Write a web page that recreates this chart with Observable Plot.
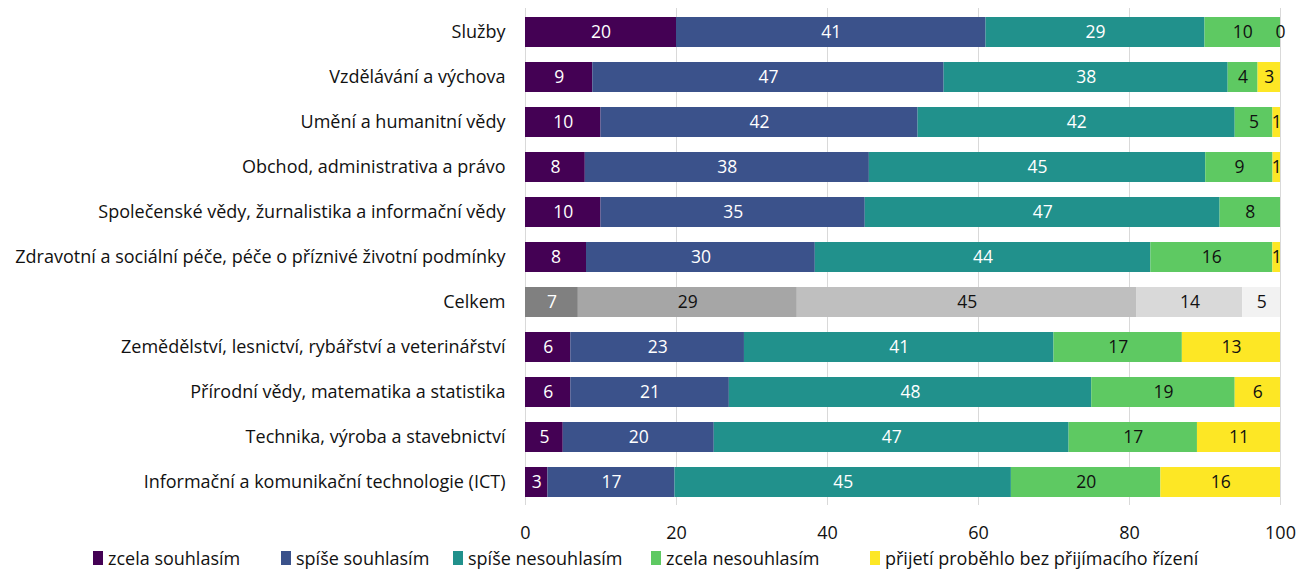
<!DOCTYPE html>
<html>
<head>
<meta charset="utf-8">
<script src="https://cdn.jsdelivr.net/npm/d3@7"></script>
<script src="https://cdn.jsdelivr.net/npm/@observablehq/plot@0.6"></script>
<style>
  html, body { margin: 0; padding: 0; background: #fff; }
  #chart { width: 1298px; }
  .legend { font-family: "Open Sans", sans-serif; font-size: 18px; color: #111; height: 25px; position: relative; }
  .legend .item { display: flex; align-items: center; position: absolute; top: 0; height: 25px; white-space: nowrap; }
  .legend .sw { width: 10px; height: 14px; margin-right: 5px; display: inline-block; }
</style>
</head>
<body>
<div id="chart"></div>
<script>
const categories = [
  "Služby",
  "Vzdělávání a výchova",
  "Umění a humanitní vědy",
  "Obchod, administrativa a právo",
  "Společenské vědy, žurnalistika a informační vědy",
  "Zdravotní a sociální péče, péče o příznivé životní podmínky",
  "Celkem",
  "Zemědělství, lesnictví, rybářství a veterinářství",
  "Přírodní vědy, matematika a statistika",
  "Technika, výroba a stavebnictví",
  "Informační a komunikační technologie (ICT)"
];
const seriesNames = ["zcela souhlasím", "spíše souhlasím", "spíše nesouhlasím", "zcela nesouhlasím", "přijetí proběhlo bez přijímacího řízení"];
const zcelaSouhlasim   = [20, 9, 10, 8, 10, 8, 7, 6, 6, 5, 3];
const spiseSouhlasim   = [41, 47, 42, 38, 35, 30, 29, 23, 21, 20, 17];
const spiseNesouhlasim = [29, 38, 42, 45, 47, 44, 45, 41, 48, 47, 45];
const zcelaNesouhlasim = [10, 4, 5, 9, 8, 16, 14, 17, 19, 17, 20];
const bezRizeni        = [0, 3, 1, 1, null, 1, 5, 13, 6, 11, 16];
const seriesColors = ["#440154", "#3b528b", "#21918c", "#5ec962", "#fde725"];
const totalColors  = ["#808080", "#a6a6a6", "#bfbfbf", "#d9d9d9", "#f2f2f2"];
const xTicks = [0, 20, 40, 60, 80, 100];

const seriesValues = [zcelaSouhlasim, spiseSouhlasim, spiseNesouhlasim, zcelaNesouhlasim, bezRizeni];
const rows = [];
categories.forEach((cat, ci) => {
  seriesNames.forEach((s, si) => {
    const v = seriesValues[si][ci];
    rows.push({cat, series: s, si, value: v == null ? 0 : v, label: v == null ? "" : String(v),
      color: cat === "Celkem" ? totalColors[si] : seriesColors[si],
      textColor: cat === "Celkem" ? (si === 0 ? "#fff" : "#111") : (si < 3 ? "#fff" : "#111")});
  });
});

const stackOpts = {x: "value", y: "cat", z: "series", order: seriesNames, offset: "normalize"};
const FONT = "'Open Sans', sans-serif";

const plot = Plot.plot({
  width: 1298,
  height: 545,
  marginLeft: 525,
  marginRight: 18,
  marginTop: 8,
  marginBottom: 40,
  style: {fontFamily: FONT, fontSize: "18px", color: "#111"},
  x: {domain: [0, 1], axis: null, label: null},
  y: {domain: categories, paddingInner: 0.34, paddingOuter: 0.17, axis: null, label: null},
  marks: [
    Plot.ruleX(xTicks.map(t => t / 100), {stroke: "#d9d9d9", strokeWidth: 1}),
    Plot.barX(rows, Plot.stackX({...stackOpts, fill: "color"})),
    Plot.text(rows, Plot.stackX({...stackOpts, text: "label", fill: "textColor", fontSize: 17.5})),
    Plot.axisY({tickSize: 0, tickPadding: 20, fontSize: 18, label: null}),
    Plot.axisX({ticks: xTicks.map(t => t / 100), tickFormat: d => Math.round(d * 100), tickSize: 0, tickPadding: 21, fontSize: 18, label: null})
  ]
});
document.getElementById("chart").appendChild(plot);

const legend = document.createElement("div");
legend.className = "legend";
const legendX = [93, 281, 453, 651, 870];
seriesNames.forEach((s, i) => {
  const it = document.createElement("div");
  it.className = "item";
  it.style.left = legendX[i] + "px";
  it.innerHTML = `<span class="sw" style="background:${seriesColors[i]}"></span><span>${s}</span>`;
  legend.appendChild(it);
});
document.getElementById("chart").appendChild(legend);
</script>
</body>
</html>
